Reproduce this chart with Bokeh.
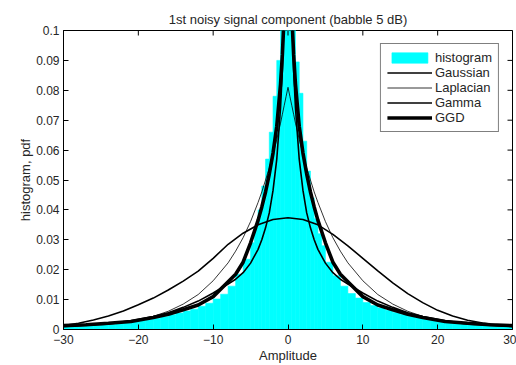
import numpy as np
from bokeh.plotting import figure
from bokeh.models import Range1d, FixedTicker, CustomJSTickFormatter
from bokeh.embed import file_html
from bokeh.resources import INLINE

# ---------------- data ----------------
# histogram bins: 1-unit bins in the tails, 0.5-unit bins in the centre
hist_edges = list(range(-30, -4)) + [-4.5, -4.0, -3.5, -3.0, -2.5, -2.0, -1.5, -1.0, -0.5,
                                     0.0, 0.5, 1.0, 1.5, 2.0, 2.5, 3.0, 3.5, 4.0, 4.5] + list(range(5, 31))
hist_vals = [0.0009, 0.0010, 0.0011, 0.0012, 0.0013, 0.0015, 0.0017, 0.0020, 0.0024, 0.0027,
             0.0030, 0.0034, 0.0038, 0.0043, 0.0049, 0.0055, 0.0062, 0.0068, 0.0078, 0.0088,
             0.0102, 0.0118, 0.0145, 0.0185, 0.0235,
             0.029, 0.034, 0.040, 0.048, 0.057, 0.066, 0.078, 0.090, 0.105, 0.140,
             0.140, 0.110, 0.0895, 0.079, 0.063, 0.053, 0.044, 0.037, 0.032, 0.028,
             0.0225, 0.0180, 0.0145, 0.0120, 0.0105, 0.0090, 0.0080, 0.0072, 0.0064, 0.0057,
             0.0050, 0.0044, 0.0039, 0.0034, 0.0030, 0.0027, 0.0024, 0.0021, 0.0018, 0.0016,
             0.0014, 0.0012, 0.0011, 0.0010, 0.0009]

gauss_x = [-30, -28, -26, -24, -22, -20, -18, -16, -14, -12, -10, -8, -6, -4, -2, 0,
           2, 4, 6, 8, 10, 12, 14, 16, 18, 20, 22, 24, 26, 28, 30]
gauss_y = [0.0013, 0.0021, 0.0032, 0.0045, 0.0062, 0.0083, 0.0105, 0.0132, 0.0162, 0.0195, 0.0238,
           0.0285, 0.0322, 0.0350, 0.0368, 0.0374,
           0.0368, 0.0350, 0.0318, 0.0280, 0.0238, 0.0196, 0.0156, 0.0120, 0.0090, 0.0064, 0.0045,
           0.0031, 0.0022, 0.0015, 0.0010]

pdf_x = [-30, -27, -24, -21, -18, -16, -14, -12, -10, -8, -7, -6, -5, -4, -3.5, -3, -2.5, -2, -1.5, -1,
         -0.75, -0.5, -0.25, 0, 0.25, 0.5, 0.75, 1, 1.5, 2, 2.5, 3, 3.5, 4, 5, 6, 7, 8, 10, 12, 14,
         16, 18, 21, 24, 27, 30]
laplace_y = [0.0009, 0.0013, 0.0017, 0.0027, 0.0044, 0.0061, 0.0085, 0.0117, 0.0163, 0.0223, 0.0262,
             0.0307, 0.0361, 0.0425, 0.0460, 0.0500, 0.0540, 0.0587, 0.0636, 0.0690, 0.0720, 0.0750,
             0.0780, 0.0810,
             0.0780, 0.0750, 0.0720, 0.0690, 0.0636, 0.0587, 0.0540, 0.0500, 0.0460, 0.0425, 0.0361,
             0.0307, 0.0262, 0.0223, 0.0163, 0.0117, 0.0085, 0.0061, 0.0044, 0.0027, 0.0017, 0.0013,
             0.0009]
gamma_y = [0.0011, 0.0015, 0.0020, 0.0029, 0.0043, 0.0056, 0.0074, 0.0095, 0.0122, 0.0152, 0.0168,
           0.0190, 0.0222, 0.0268, 0.0300, 0.0340, 0.0390, 0.0465, 0.0570, 0.0740, 0.0870, 0.1070,
           0.1480, 0.6000,
           0.1480, 0.1070, 0.0870, 0.0740, 0.0570, 0.0465, 0.0390, 0.0340, 0.0300, 0.0268, 0.0222,
           0.0190, 0.0168, 0.0152, 0.0122, 0.0095, 0.0074, 0.0056, 0.0043, 0.0029, 0.0020, 0.0015,
           0.0011]
ggd_y = [0.0013, 0.0016, 0.0021, 0.0027, 0.0040, 0.0051, 0.0066, 0.0082, 0.0110, 0.0160, 0.0185,
         0.0225, 0.0290, 0.0365, 0.0410, 0.0460, 0.0520, 0.0590, 0.0680, 0.0820, 0.0920, 0.1060,
         0.1250, 0.1900,
         0.1250, 0.1060, 0.0920, 0.0820, 0.0680, 0.0590, 0.0520, 0.0460, 0.0410, 0.0365, 0.0290,
         0.0225, 0.0185, 0.0160, 0.0110, 0.0082, 0.0066, 0.0051, 0.0040, 0.0027, 0.0021, 0.0016,
         0.0013]

x_ticks = [-30, -20, -10, 0, 10, 20, 30]
y_ticks = [0, 0.01, 0.02, 0.03, 0.04, 0.05, 0.06, 0.07, 0.08, 0.09, 0.1]

# ---------------- figure ----------------
FONT = "Liberation Sans"
TXT = "#262626"
X0, X1, Y0, Y1 = -30, 30, 0, 0.1

p = figure(width=516, height=365, output_backend="svg", toolbar_location=None,
           x_range=Range1d(X0, X1), y_range=Range1d(Y0, Y1),
           min_border_left=63, min_border_right=4, min_border_top=30, min_border_bottom=29)
p.background_fill_color = "white"
p.border_fill_color = "white"
p.outline_line_color = "black"
p.outline_line_width = 1
p.grid.visible = False

p.title.text = "1st noisy signal component (babble 5 dB)"
p.title.align = "center"
p.title.text_font = FONT
p.title.text_font_size = "13px"
p.title.text_font_style = "normal"
p.title.text_color = TXT
p.title.standoff = 8

yfmt = CustomJSTickFormatter(code="""
    var s = tick.toFixed(2).replace(/0+$/, '').replace(/\\.$/, '');
    return s;
""")

p.xaxis.ticker = FixedTicker(ticks=x_ticks)
p.yaxis.ticker = FixedTicker(ticks=y_ticks)
p.yaxis.formatter = yfmt
p.xaxis.axis_label = "Amplitude"
p.yaxis.axis_label = "histogram, pdf"

for ax in (p.xaxis[0], p.yaxis[0]):
    ax.major_tick_in = 5
    ax.major_tick_out = 0
    ax.minor_tick_in = 0
    ax.minor_tick_out = 0
    ax.axis_line_color = "black"
    ax.major_tick_line_color = "black"
    ax.major_label_text_font = FONT
    ax.major_label_text_font_size = "12px"
    ax.major_label_text_color = TXT
    ax.major_label_standoff = 4
    ax.axis_label_text_font = FONT
    ax.axis_label_text_font_size = "13px"
    ax.axis_label_text_font_style = "normal"
    ax.axis_label_text_color = TXT
p.xaxis.axis_label_standoff = 1
p.xaxis.major_label_standoff = 5
p.yaxis.axis_label_standoff = 0

# ---------------- glyphs ----------------
p.quad(left=hist_edges[:-1], right=hist_edges[1:], bottom=0, top=hist_vals,
       fill_color="#00FFFF", line_color="#00FFFF", line_width=0.6, legend_label="histogram")
p.line(gauss_x, gauss_y, line_color="black", line_width=1.6, legend_label="Gaussian")
p.line(pdf_x, laplace_y, line_color="black", line_width=0.8, legend_label="Laplacian")
p.line(pdf_x, gamma_y, line_color="black", line_width=1.6, legend_label="Gamma")
p.line(pdf_x, ggd_y, line_color="black", line_width=3.6, legend_label="GGD")

# mirrored inward ticks on the top and right edges (MATLAB box style)
p.ray(x=x_ticks, y=[Y1] * len(x_ticks), length=5, length_units="screen",
      angle=-np.pi / 2, line_color="black", line_width=1)
p.ray(x=[X1] * len(y_ticks), y=y_ticks, length=5, length_units="screen",
      angle=np.pi, line_color="black", line_width=1)

lg = p.legend[0]
lg.location = "top_right"
lg.margin = 13
lg.padding = 6
lg.spacing = 0
lg.label_height = 15
lg.glyph_height = 13
lg.glyph_width = 45
lg.label_standoff = 3
lg.label_text_font = FONT
lg.label_text_font_size = "13px"
lg.label_text_color = TXT
lg.border_line_color = "black"
lg.border_line_width = 1.3
lg.background_fill_color = "white"
lg.background_fill_alpha = 1

open("out.html", "w").write(file_html(p, INLINE))
